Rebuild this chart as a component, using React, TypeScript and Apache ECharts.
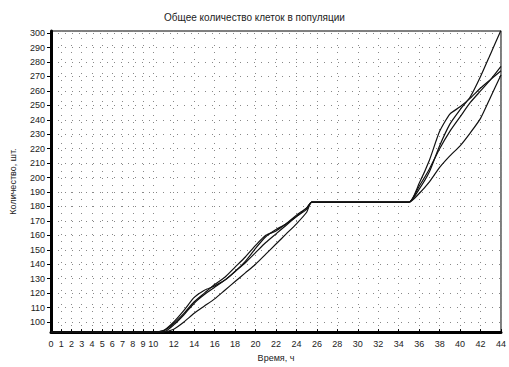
import React, { useEffect, useRef } from "react";
import * as echarts from "echarts";

const titleText = "Общее количество клеток в популяции";
const xName = "Время, ч";
const yName = "Количество, шт.";

const times = [0, 10, 11, 12, 13, 14, 15, 16, 17, 18, 19, 20, 21, 22, 23, 24, 25, 25.5, 30, 35, 36, 37, 38, 39, 40, 41, 42, 43, 44];
const seriesA = [93, 93, 94, 100, 108, 117, 122, 125, 129, 135, 142, 151, 159, 164, 168, 174, 179, 183, 183, 183, 192, 204, 222, 237, 247, 256, 270, 286, 302];
const seriesB = [93, 93, 93, 95, 100, 106, 111, 116, 122, 128, 134, 140, 147, 154, 161, 168, 176, 183, 183, 183, 189, 197, 207, 215, 222, 231, 241, 256, 271];
const seriesC = [93, 93, 93, 98, 105, 113, 119, 124, 129, 135, 141, 148, 155, 161, 167, 173, 179, 183, 183, 183, 194, 206, 220, 232, 242, 252, 260, 268, 277];
const seriesD = [93, 93, 94, 99, 106, 114, 120, 126, 131, 138, 145, 153, 160, 163, 168, 173, 178, 183, 183, 183, 196, 212, 232, 244, 249, 255, 262, 268, 274];

const xTickLabels = [0, 1, 2, 3, 4, 5, 6, 7, 8, 9, 10, 12, 14, 16, 18, 20, 22, 24, 26, 28, 30, 32, 34, 36, 38, 40, 42, 44];
const xGridValues = [2, 4, 6, 8, 10, 12, 14, 16, 18, 20, 22, 24, 26, 28, 30, 32, 34, 36, 38, 40, 42];
const yTickLabels = [100, 110, 120, 130, 140, 150, 160, 170, 180, 190, 200, 210, 220, 230, 240, 250, 260, 270, 280, 290, 300];
const yGridValues = [100, 110, 120, 130, 140, 150, 160, 170, 180, 190, 200, 210, 220, 230, 240, 250, 260, 270, 280, 290];

const allSeries = [seriesA, seriesB, seriesC, seriesD];

export default function App() {
  const ref = useRef<HTMLDivElement>(null);
  useEffect(() => {
    if (!ref.current) return;
    const chart = echarts.init(ref.current, null, { renderer: "svg" });
    const font = "Liberation Sans, Arial, sans-serif";
    chart.setOption({
      animation: false,
      backgroundColor: "#ffffff",
      title: {
        text: titleText,
        left: "center",
        top: 7,
        textStyle: { fontSize: 10, fontWeight: "normal", color: "#222", fontFamily: font },
      },
      grid: {
        left: 48,
        right: 1,
        top: 31,
        bottom: 30,
        show: true,
        borderColor: "#000",
        borderWidth: 1,
      },
      xAxis: {
        type: "value",
        min: 0,
        max: 44,
        name: xName,
        nameLocation: "middle",
        nameGap: 19,
        nameTextStyle: { fontSize: 9, color: "#222", fontFamily: font },
        axisLine: { show: true, lineStyle: { color: "#000", width: 3 } },
        axisTick: { show: true, inside: true, length: 3, customValues: xTickLabels, lineStyle: { color: "#000" } },
        axisLabel: { customValues: xTickLabels, fontSize: 9, color: "#222", margin: 7, fontFamily: font, showMaxLabel: true },
        splitLine: { show: true, customValues: xGridValues, lineStyle: { color: "#888", type: [1, 6], width: 1 } },
      },
      yAxis: {
        type: "value",
        min: 93,
        max: 301.5,
        name: yName,
        nameLocation: "middle",
        nameGap: 34,
        nameTextStyle: { fontSize: 9, color: "#222", fontFamily: font },
        axisLine: { show: true, lineStyle: { color: "#000", width: 3 } },
        axisTick: { show: true, length: 4, customValues: yTickLabels, lineStyle: { color: "#000" } },
        axisLabel: { customValues: yTickLabels, fontSize: 9, color: "#222", margin: 6, fontFamily: font },
        splitLine: { show: true, customValues: yGridValues, lineStyle: { color: "#888", type: [1, 6], width: 1 } },
      },
      series: allSeries.map((vals) => ({
        type: "line",
        data: times.map((t, i) => [t, vals[i]]),
        showSymbol: false,
        smooth: 0.2,
        lineStyle: { color: "#111", width: 1.2 },
      })),
    });
    return () => chart.dispose();
  }, []);
  return (
    <div
      ref={ref}
      style={{ position: "fixed", left: 0, top: 0, width: 509, height: 367, background: "#fff" }}
    />
  );
}
